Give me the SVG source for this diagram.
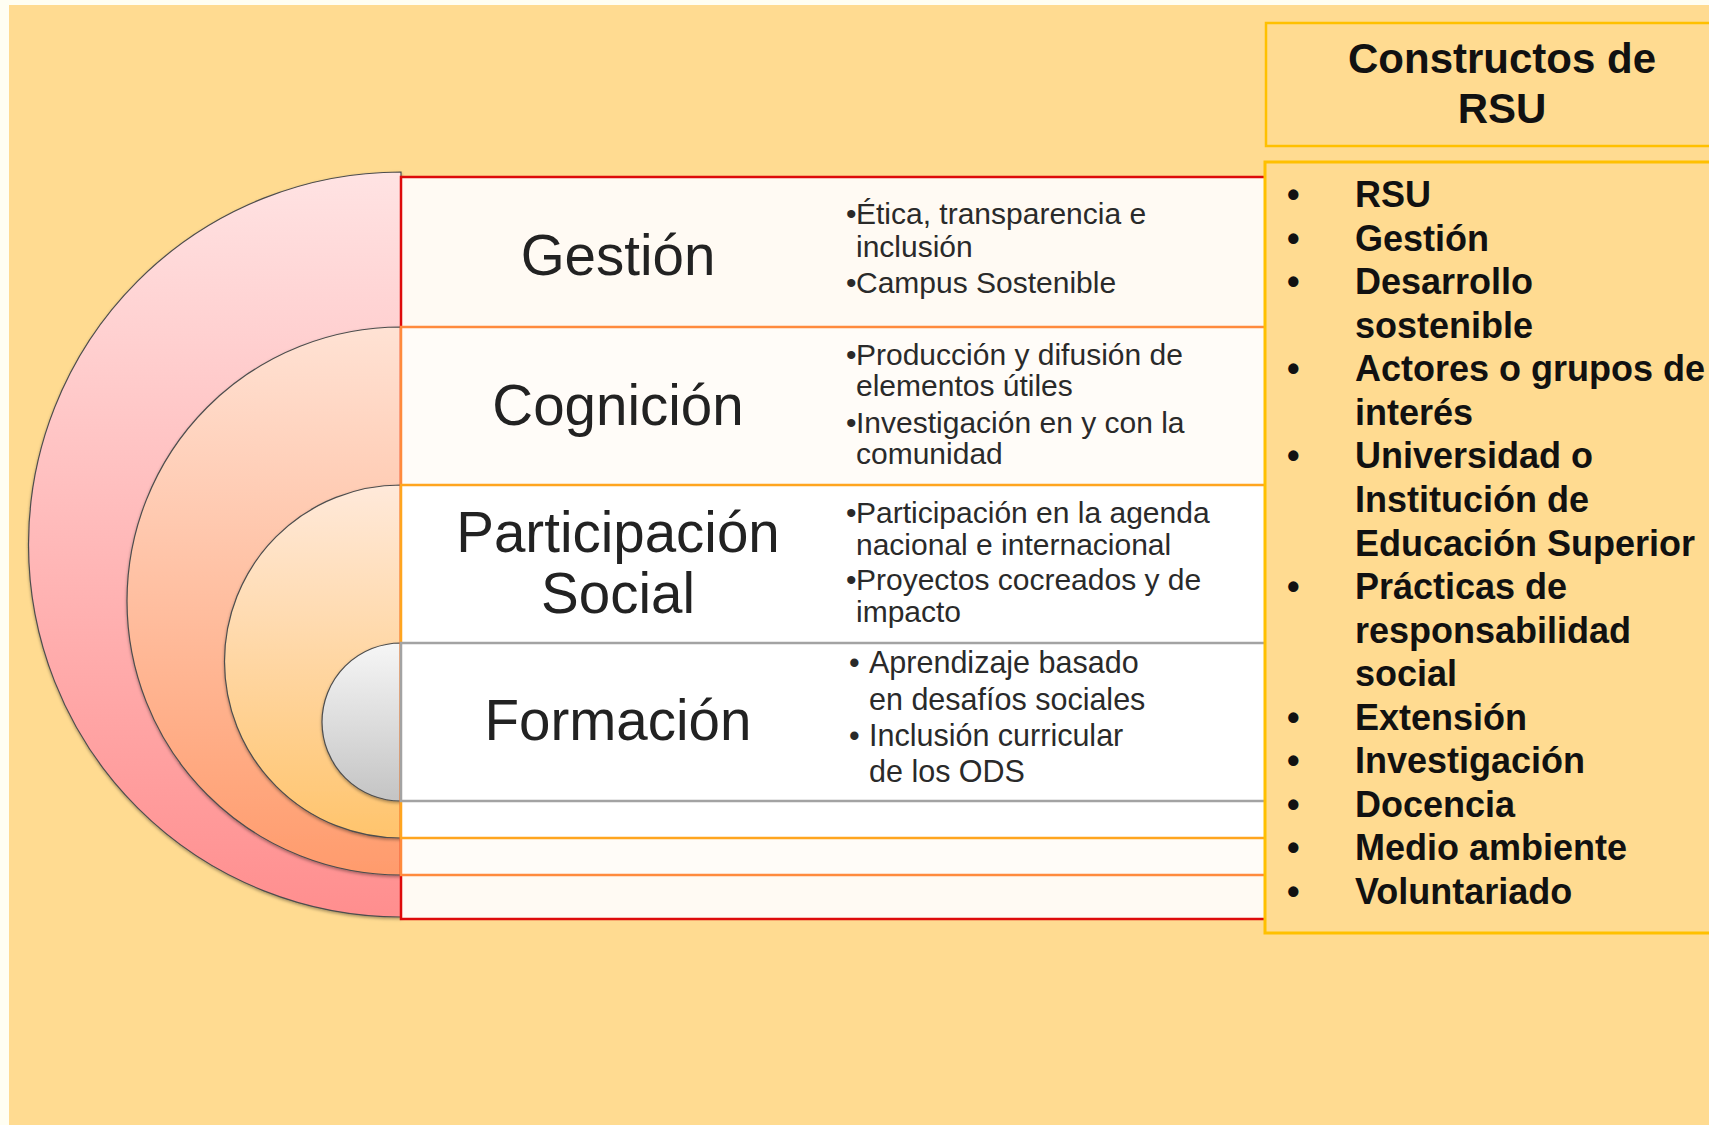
<svg xmlns="http://www.w3.org/2000/svg" width="1709" height="1125" viewBox="0 0 1709 1125">
  <defs>
    <linearGradient id="g1" x1="0" y1="0" x2="0" y2="1">
      <stop offset="0" stop-color="#FFE3E3"/>
      <stop offset="1" stop-color="#FF8E8E"/>
    </linearGradient>
    <linearGradient id="g2" x1="0" y1="0" x2="0" y2="1">
      <stop offset="0" stop-color="#FFE2D4"/>
      <stop offset="1" stop-color="#FF9B6C"/>
    </linearGradient>
    <linearGradient id="g3" x1="0" y1="0" x2="0" y2="1">
      <stop offset="0" stop-color="#FFE9DA"/>
      <stop offset="1" stop-color="#FFC46C"/>
    </linearGradient>
    <linearGradient id="g4" x1="0" y1="0" x2="0" y2="1">
      <stop offset="0" stop-color="#F6F6F6"/>
      <stop offset="1" stop-color="#C4C4C4"/>
    </linearGradient>
    <filter id="sh" x="-10%" y="-10%" width="120%" height="120%">
      <feDropShadow dx="0" dy="1.5" stdDeviation="1.5" flood-color="#000" flood-opacity="0.35"/>
    </filter>
  </defs>
  <style>
    .arc { stroke: #4d4d4d; stroke-width: 1.2; filter: url(#sh); }
    .lbl { font-family: "Liberation Sans", Arial, sans-serif; font-size: 56.5px; fill: #222; text-anchor: middle; }
    .itm { font-family: "Liberation Sans", Arial, sans-serif; font-size: 30px; fill: #2a2a2a; }
    .itm2 { font-family: "Liberation Sans", Arial, sans-serif; font-size: 30.5px; fill: #2a2a2a; }
    .lst { font-family: "Liberation Sans", Arial, sans-serif; font-size: 36px; font-weight: bold; fill: #111; }
    .ttl { font-family: "Liberation Sans", Arial, sans-serif; font-size: 42px; font-weight: bold; fill: #111; text-anchor: middle; }
  </style>

  <rect x="0" y="0" width="1709" height="1125" fill="#FFFEF2"/>
  <rect x="9" y="5" width="1700" height="1120" fill="#FFDB91"/>

  <g id="target-arcs">
    <path class="arc" d="M401 172 A372.5 372.5 0 0 0 401 917 Z" fill="url(#g1)"/>
    <path class="arc" d="M401 327 A274 274 0 0 0 401 875 Z" fill="url(#g2)"/>
    <path class="arc" d="M401 485 A176.5 176.5 0 0 0 401 838 Z" fill="url(#g3)"/>
    <path class="arc" d="M401 643 A79 79 0 0 0 401 801 Z" fill="url(#g4)"/>
  </g>

  <g id="node-gestion">
    <rect x="401" y="177" width="900" height="742" fill="#FFFAF3" stroke="#DD0A0A" stroke-width="2.5"/>
    <text class="lbl" x="618" y="275">Gestión</text>
    <text class="itm" x="846" y="224">•</text>
    <text class="itm" x="856" y="224">Ética, transparencia e</text>
    <text class="itm" x="856" y="257">inclusión</text>
    <text class="itm" x="846" y="293">•</text>
    <text class="itm" x="856" y="293">Campus Sostenible</text>
  </g>

  <g id="node-cognicion">
    <rect x="401" y="327" width="900" height="548" fill="#FFFCF8" stroke="#FF8A3D" stroke-width="2.5"/>
    <text class="lbl" x="618" y="425">Cognición</text>
    <text class="itm" x="846" y="365">•</text>
    <text class="itm" x="856" y="365">Producción y difusión de</text>
    <text class="itm" x="856" y="396">elementos útiles</text>
    <text class="itm" x="846" y="433">•</text>
    <text class="itm" x="856" y="433">Investigación en y con la</text>
    <text class="itm" x="856" y="464">comunidad</text>
  </g>

  <g id="node-participacion">
    <rect x="401" y="485" width="900" height="353" fill="#FFFFFF" stroke="#FFA51F" stroke-width="2.5"/>
    <text class="lbl" x="618" y="552">Participación</text>
    <text class="lbl" x="618" y="613">Social</text>
    <text class="itm" x="846" y="523">•</text>
    <text class="itm" x="856" y="523">Participación en la agenda</text>
    <text class="itm" x="856" y="555">nacional e internacional</text>
    <text class="itm" x="846" y="590">•</text>
    <text class="itm" x="856" y="590">Proyectos cocreados y de</text>
    <text class="itm" x="856" y="622">impacto</text>
  </g>

  <g id="node-formacion">
    <rect x="401" y="643" width="900" height="158" fill="#FFFFFF" stroke="#A3A3A3" stroke-width="2.5"/>
    <text class="lbl" x="618" y="740">Formación</text>
    <text class="itm2" x="849" y="673">•</text>
    <text class="itm2" x="869" y="673">Aprendizaje  basado</text>
    <text class="itm2" x="869" y="710">en desafíos sociales</text>
    <text class="itm2" x="849" y="746">•</text>
    <text class="itm2" x="869" y="746">Inclusión curricular</text>
    <text class="itm2" x="869" y="782">de los ODS</text>
  </g>

  <g id="node-titulo">
    <rect x="1266" y="23" width="500" height="123" fill="#FFDB91" stroke="#FFC000" stroke-width="2.5"/>
    <text class="ttl" x="1502" y="73">Constructos de</text>
    <text class="ttl" x="1502" y="123">RSU</text>
  </g>

  <g id="node-constructos">
    <rect x="1265" y="162" width="500" height="771" fill="#FFDB91" stroke="#FFC000" stroke-width="3"/>
    <g class="lst">
      <text x="1287" y="207">•</text><text x="1355" y="207">RSU</text>
      <text x="1287" y="250.6">•</text><text x="1355" y="250.6">Gestión</text>
      <text x="1287" y="294.1">•</text><text x="1355" y="294.1">Desarrollo</text>
      <text x="1355" y="337.7">sostenible</text>
      <text x="1287" y="381.2">•</text><text x="1355" y="381.2">Actores o grupos de</text>
      <text x="1355" y="424.8">interés</text>
      <text x="1287" y="468.4">•</text><text x="1355" y="468.4">Universidad o</text>
      <text x="1355" y="511.9">Institución de</text>
      <text x="1355" y="555.5">Educación Superior</text>
      <text x="1287" y="599">•</text><text x="1355" y="599">Prácticas de</text>
      <text x="1355" y="642.6">responsabilidad</text>
      <text x="1355" y="686.2">social</text>
      <text x="1287" y="729.7">•</text><text x="1355" y="729.7">Extensión</text>
      <text x="1287" y="773.3">•</text><text x="1355" y="773.3">Investigación</text>
      <text x="1287" y="816.8">•</text><text x="1355" y="816.8">Docencia</text>
      <text x="1287" y="860.4">•</text><text x="1355" y="860.4">Medio ambiente</text>
      <text x="1287" y="904">•</text><text x="1355" y="904">Voluntariado</text>
    </g>
  </g>

  <g id="connectors"/>
</svg>
